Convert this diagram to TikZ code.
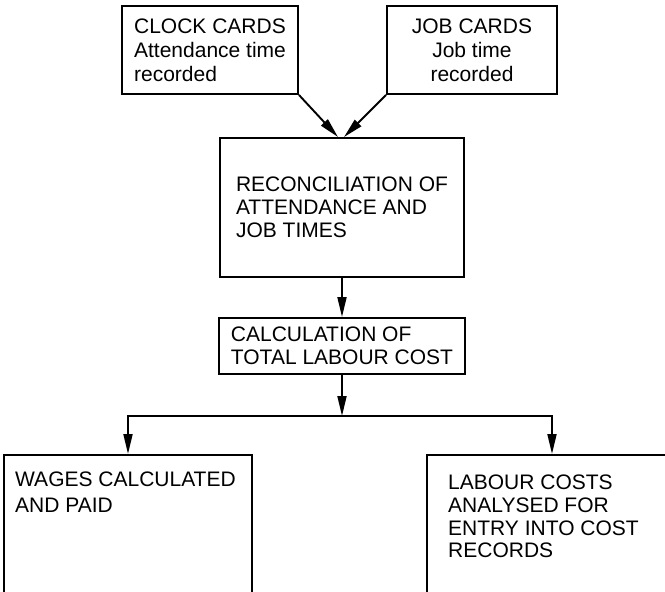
\documentclass[tikz,border=0pt]{standalone}
\usepackage{fontspec}
\setmainfont{Liberation Sans}
\usetikzlibrary{arrows.meta,calc}
\begin{document}
\begin{tikzpicture}[x=1pt,y=-1pt,
  box/.style={draw, line width=1.9pt, inner sep=0pt, font=\fontsize{21}{23}\selectfont},
  flow/.style={line width=1.9pt, -{Triangle[length=20pt,width=9pt]}},
  textblock/.style={inner sep=0pt, align=left, anchor=north west, font=\fontsize{21}{22.7}\selectfont}]
\useasboundingbox (0,0) rectangle (665,592);
% source documents
\node[box, minimum width=176pt, minimum height=88pt, align=left,
      font=\fontsize{21}{24}\selectfont] (clock) at (210,50)
  {CLOCK CARDS\\Attendance time\\recorded};
\node[box, minimum width=170pt, minimum height=88pt, align=center,
      font=\fontsize{21}{24}\selectfont] (job) at (472,50)
  {JOB CARDS\\Job time\\recorded};
% processing steps
\node[box, minimum width=244pt, minimum height=139pt, align=left] (recon) at (342,207.5)
  {RECONCILIATION OF\\ATTENDANCE AND\\JOB TIMES};
\node[box, minimum width=246pt, minimum height=56pt, align=left] (calc) at (342,346)
  {CALCULATION OF\\TOTAL LABOUR COST};
% outputs (boxes run off the lower edge)
\node[box, minimum width=248pt, minimum height=200pt, anchor=north] (wages) at (128,454) {};
\node[box, minimum width=250pt, minimum height=200pt, anchor=north] (costs) at (552,454) {};
\node[textblock, font=\fontsize{21}{25.5}\selectfont] (wagestext) at (15,472)
  {WAGES CALCULATED\\AND PAID};
\node[textblock] (coststext) at (448,475)
  {LABOUR COSTS\\ANALYSED FOR\\ENTRY INTO COST\\RECORDS};
\coordinate (split) at (342,416);
% connectors
\draw[flow] (clock.south east) -- ($(recon.north)+(-4,0)$);
\draw[flow] (job.south west) -- ($(recon.north)+(2,0)$);
\draw[flow] (recon) -- (calc);
\draw[flow] (calc) -- (split);
\draw[flow] (split) -| (wages);
\draw[flow] (split) -| (costs);
\end{tikzpicture}
\end{document}
